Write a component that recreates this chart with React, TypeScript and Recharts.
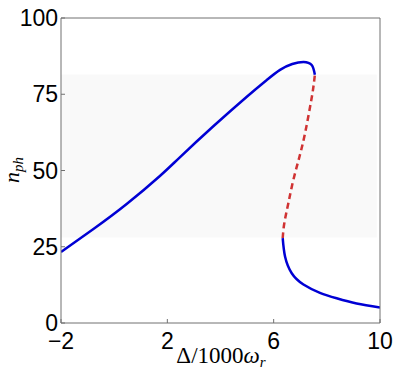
import React from "react";
import { LineChart, Line, XAxis, YAxis, ReferenceArea } from "recharts";

const xTicks = [-2, 2, 6, 10];
const yTicks = [0, 25, 50, 75, 100];

const upperBranch = [
  { x: -2, y: 23.3 },
  { x: -0.78, y: 30.8 },
  { x: 0.47, y: 39.0 },
  { x: 1.72, y: 48.2 },
  { x: 2.48, y: 54.4 },
  { x: 3.73, y: 64.5 },
  { x: 4.99, y: 74.2 },
  { x: 5.73, y: 79.6 },
  { x: 6.24, y: 83.0 },
  { x: 6.7, y: 84.9 },
  { x: 7.12, y: 85.6 },
  { x: 7.43, y: 84.6 },
  { x: 7.55, y: 81.4 },
];

const unstableBranch = [
  { x: 6.34, y: 27.8 },
  { x: 6.4, y: 32.7 },
  { x: 6.55, y: 39.2 },
  { x: 6.74, y: 46.9 },
  { x: 6.97, y: 54.5 },
  { x: 7.18, y: 62.2 },
  { x: 7.37, y: 70.9 },
  { x: 7.48, y: 76.5 },
  { x: 7.55, y: 81.4 },
];

const lowerBranch = [
  { x: 6.34, y: 27.8 },
  { x: 6.43, y: 21.7 },
  { x: 6.68, y: 16.3 },
  { x: 7.12, y: 12.6 },
  { x: 7.74, y: 9.9 },
  { x: 8.37, y: 8.1 },
  { x: 9.12, y: 6.4 },
  { x: 10, y: 5.1 },
];

const band = { x1: -2, x2: 9.88, y1: 28, y2: 81.5 };

const AXIS = "#707070";
const TICK_FONT = "'Liberation Sans Narrow', 'Liberation Sans', Arial, sans-serif";
const SERIF = "'Liberation Serif', 'DejaVu Serif', serif";

const fmt = (v: number) => (v < 0 ? "\u2212" + Math.abs(v) : String(v));

const LeftTick = (p: any) => (
  <g>
    <line x1={p.x} x2={p.x + 4} y1={p.y} y2={p.y} stroke={AXIS} />
    <text x={p.x - 3} y={p.y} dy={8} textAnchor="end" fontSize={23} fontFamily={TICK_FONT} fill="#000">
      {fmt(p.payload.value)}
    </text>
  </g>
);
const RightTick = (p: any) => (
  <line x1={p.x} x2={p.x - 4} y1={p.y} y2={p.y} stroke={AXIS} />
);
const BottomTick = (p: any) => (
  <g>
    <line x1={p.x} x2={p.x} y1={p.y} y2={p.y - 4} stroke={AXIS} />
    <text x={p.x} y={p.y + 26} textAnchor="middle" fontSize={23} fontFamily={TICK_FONT} fill="#000">
      {fmt(p.payload.value)}
    </text>
  </g>
);
const TopTick = (p: any) => (
  <line x1={p.x} x2={p.x} y1={p.y} y2={p.y + 4} stroke={AXIS} />
);

const XLabel = () => (
  <text x={221} y={363} textAnchor="middle" fontSize={23} fontFamily={SERIF} fill="#000">
    <tspan>Δ/1000</tspan>
    <tspan fontStyle="italic">ω</tspan>
    <tspan fontStyle="italic" fontSize={15} dy={4}>r</tspan>
  </text>
);

const YLabel = () => (
  <text
    x={0}
    y={0}
    transform="translate(19,170) rotate(-90)"
    textAnchor="middle"
    fontSize={22}
    fontFamily={SERIF}
    fontStyle="italic"
    fill="#000"
  >
    <tspan>n</tspan>
    <tspan fontSize={15} dy={4}>ph</tspan>
  </text>
);

export default function App() {
  return (
    <div style={{ position: "absolute", left: 0, top: 0, background: "#fff" }}>
      <LineChart width={415} height={374} margin={{ top: 0, right: 0, bottom: 0, left: 0 }}>
        <XAxis
          xAxisId="b"
          type="number"
          dataKey="x"
          domain={[-2, 10]}
          ticks={xTicks}
          orientation="bottom"
          height={51}
          stroke={AXIS}
          tickSize={0}
          tickMargin={0}
          tick={BottomTick}
          tickLine={false}
          allowDataOverflow
          label={{ content: XLabel }}
        />
        <XAxis
          xAxisId="t"
          type="number"
          dataKey="x"
          domain={[-2, 10]}
          ticks={xTicks}
          orientation="top"
          height={18}
          stroke={AXIS}
          tickSize={0}
          tickMargin={0}
          tick={TopTick}
          tickLine={false}
        />
        <YAxis
          yAxisId="l"
          type="number"
          domain={[0, 100]}
          ticks={yTicks}
          orientation="left"
          width={61}
          stroke={AXIS}
          tickSize={0}
          tickMargin={0}
          tick={LeftTick}
          tickLine={false}
          allowDataOverflow
          label={{ content: YLabel }}
        />
        <YAxis
          yAxisId="r"
          type="number"
          domain={[0, 100]}
          ticks={yTicks}
          orientation="right"
          width={35}
          stroke={AXIS}
          tickSize={0}
          tickMargin={0}
          tick={RightTick}
          tickLine={false}
        />
        <ReferenceArea
          xAxisId="b"
          yAxisId="l"
          x1={band.x1}
          x2={band.x2}
          y1={band.y1}
          y2={band.y2}
          fill="#f9f9f9"
          fillOpacity={1}
          stroke="none"
        />
        <Line
          xAxisId="b"
          yAxisId="l"
          data={upperBranch}
          dataKey="y"
          type="natural"
          stroke="#0000d4"
          strokeWidth={2.5}
          dot={false}
          activeDot={false}
          isAnimationActive={false}
        />
        <Line
          xAxisId="b"
          yAxisId="l"
          data={unstableBranch}
          dataKey="y"
          type="natural"
          stroke="#d03333"
          strokeWidth={2.5}
          strokeDasharray="6 4"
          dot={false}
          activeDot={false}
          isAnimationActive={false}
        />
        <Line
          xAxisId="b"
          yAxisId="l"
          data={lowerBranch}
          dataKey="y"
          type="natural"
          stroke="#0000d4"
          strokeWidth={2.5}
          dot={false}
          activeDot={false}
          isAnimationActive={false}
        />
      </LineChart>
    </div>
  );
}
